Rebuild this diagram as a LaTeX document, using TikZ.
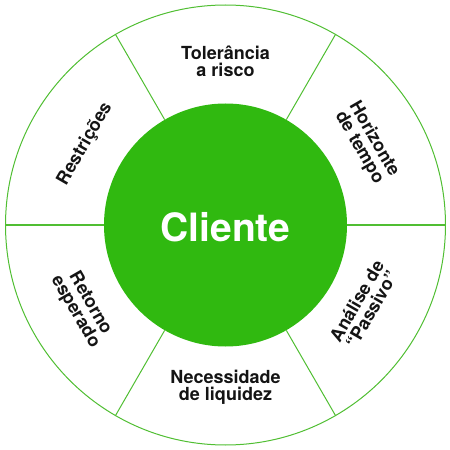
\documentclass[tikz,border=0pt]{standalone}
\usepackage{fontspec}
\setmainfont{TeX Gyre Heros}
\definecolor{verde}{RGB}{48,185,16}
\definecolor{linha}{RGB}{80,190,50}

\begin{document}
\begin{tikzpicture}[x=1pt,y=1pt,
    rotulo/.style={font=\bfseries\fontsize{18}{17}\selectfont,align=center,text=black!92,inner sep=0pt}]
    \useasboundingbox (-225.5,-225) rectangle (224.5,225);
    \node[draw=linha,line width=1pt,circle,minimum size=440pt,inner sep=0pt] (aro) at (0,0) {};
    \node[circle,fill=verde,minimum size=243pt,inner sep=0pt] (cliente) at (0,0) {};
    \node[text=white,font=\bfseries\fontsize{39}{39}\selectfont,yshift=-2.5pt] (nome) at (cliente) {Cliente};
    \foreach \a in {0,60,...,300}
      {\draw[linha,line width=1pt] (cliente.\a) -- (aro.\a);}
    \node[rotulo] (tolerancia) at (90:164) {Tolerância\\a risco};
    \node[rotulo,rotate=-60] (horizonte) at (30:163) {Horizonte\\de tempo};
    \node[rotulo,rotate=60] (passivo) at (-30:160) {Análise de\\“Passivo”};
    \node[rotulo] (liquidez) at (-90:162) {Necessidade\\de liquidez};
    \node[rotulo,rotate=-60] (retorno) at (210:165) {Retorno\\esperado};
    \node[rotulo,rotate=60] (restricoes) at (150:162) {Restrições};
\end{tikzpicture}
\end{document}
